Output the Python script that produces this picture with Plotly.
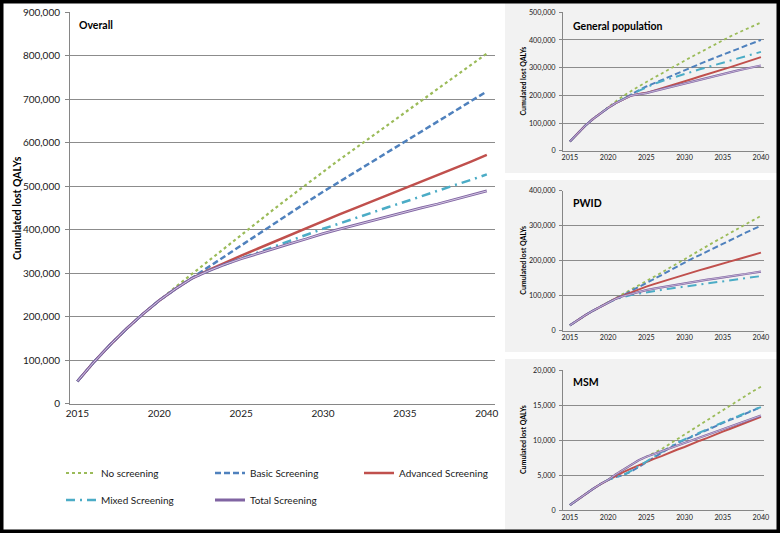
import plotly.graph_objects as go

years = list(range(2015, 2041))
series_names = ["No screening", "Basic Screening", "Advanced Screening", "Mixed Screening", "Total Screening"]

# ---------------- Overall (thousand QALYs) ----------------
overall_no = [51, 95, 135, 172, 206, 238, 268, 298, 328, 358, 389, 418, 447, 476, 505, 534, 561, 588, 615, 642, 669, 696, 723, 750, 777, 805]
overall_basic = [51, 95, 135, 172, 206, 237, 264, 289, 313, 338, 363, 388, 413, 438, 463, 487, 510, 533, 556, 579, 602, 625, 648, 671, 694, 718]
overall_adv = [51, 95, 135, 172, 206, 237, 264, 288, 307, 324, 340, 356, 372, 388, 404, 420, 435, 450, 465, 480, 495, 510, 526, 541, 556, 572]
overall_mixed = [51, 95, 135, 172, 206, 237, 264, 288, 305, 320, 334, 347, 361, 374, 388, 402, 414, 427, 439, 452, 464, 477, 489, 502, 514, 527]
overall_total = [51, 95, 135, 172, 206, 237, 264, 288, 305, 320, 333, 345, 356, 368, 379, 391, 401, 411, 420, 430, 440, 450, 459, 469, 479, 489]

# ---------------- General population (thousand QALYs) ----------------
gp_no = [33, 62, 90, 114, 136, 157, 178, 198, 216, 232, 248, 264, 279, 294, 309, 325, 340, 355, 370, 385, 400, 413, 426, 439, 451, 463]
gp_basic = [33, 62, 90, 114, 136, 155, 172, 188, 203, 218, 232, 244, 256, 268, 280, 292, 303, 314, 325, 336, 346, 357, 368, 379, 390, 400]
gp_adv = [33, 62, 90, 114, 136, 155, 172, 187, 199, 205, 209, 217, 225, 234, 242, 251, 259, 268, 276, 285, 294, 302, 311, 320, 329, 338]
gp_mixed = [33, 62, 90, 114, 136, 155, 172, 188, 202, 216, 230, 241, 251, 260, 269, 278, 286, 294, 302, 310, 318, 326, 334, 342, 350, 357]
gp_total = [33, 62, 90, 114, 136, 155, 172, 187, 199, 204, 208, 215, 222, 229, 236, 243, 250, 257, 263, 270, 277, 283, 290, 296, 302, 308]

# ---------------- PWID (thousand QALYs) ----------------
pwid_no = [15, 30, 44, 57, 69, 82, 93, 104, 116, 128, 140, 153, 166, 179, 192, 205, 217, 230, 242, 255, 267, 280, 292, 304, 316, 328]
pwid_basic = [15, 30, 44, 57, 69, 80, 92, 102, 113, 124, 135, 147, 159, 171, 183, 195, 206, 216, 227, 238, 249, 259, 270, 280, 290, 300]
pwid_adv = [15, 30, 44, 57, 69, 80, 92, 101, 110, 118, 126, 133, 140, 147, 153, 160, 166, 173, 179, 186, 192, 198, 204, 211, 217, 223]
pwid_mixed = [15, 30, 44, 57, 69, 80, 90, 97, 102, 106, 110, 114, 117, 120, 123, 126, 129, 132, 135, 138, 141, 144, 147, 150, 153, 156]
pwid_total = [15, 30, 44, 57, 69, 80, 91, 99, 105, 111, 116, 120, 124, 128, 132, 135, 139, 142, 146, 149, 153, 156, 159, 162, 165, 169]

# ---------------- MSM (thousand QALYs) ----------------
msm_no = [0.7, 1.5, 2.3, 3.0, 3.7, 4.3, 5.1, 5.8, 6.5, 7.1, 7.6, 8.1, 8.7, 9.4, 10.1, 10.8, 11.5, 12.2, 12.9, 13.6, 14.3, 15.0, 15.6, 16.3, 17.0, 17.6]
msm_basic = [0.7, 1.5, 2.3, 3.0, 3.7, 4.3, 4.7, 5.0, 5.5, 6.1, 6.8, 7.5, 8.2, 8.9, 9.5, 10.0, 10.5, 11.0, 11.5, 12.0, 12.4, 12.9, 13.3, 13.8, 14.2, 14.7]
msm_adv = [0.7, 1.5, 2.3, 3.0, 3.7, 4.3, 4.9, 5.4, 5.9, 6.4, 6.9, 7.3, 7.7, 8.2, 8.6, 9.0, 9.5, 9.9, 10.3, 10.8, 11.2, 11.6, 12.0, 12.5, 12.9, 13.3]
msm_mixed = [0.7, 1.5, 2.3, 3.0, 3.7, 4.3, 4.7, 5.0, 5.6, 6.2, 6.9, 7.6, 8.3, 9.0, 9.6, 10.1, 10.6, 11.1, 11.6, 12.1, 12.5, 13.0, 13.4, 13.9, 14.3, 14.7]
msm_total = [0.7, 1.5, 2.3, 3.0, 3.7, 4.3, 5.1, 5.8, 6.5, 7.1, 7.6, 8.0, 8.4, 8.8, 9.2, 9.6, 10.0, 10.4, 10.8, 11.2, 11.6, 12.0, 12.4, 12.7, 13.1, 13.5]

panel_titles = ["Overall", "General population", "PWID", "MSM"]
y_title = "Cumulated lost QALYs"
tick_years = [2015, 2020, 2025, 2030, 2035, 2040]

colors = ["#9BBB59", "#4F81BD", "#C0504D", "#4BACC6", "#8064A2"]
dashes = ["dot", "6px,3px", "solid", "9px,5px,2px,5px", "solid"]

W, H = 780, 533
def px_x(p):
    return p / W
def px_y(p):
    return 1 - p / H

panels = [
    ([overall_no, overall_basic, overall_adv, overall_mixed, overall_total], 1000, "x", "y",
     (70, 495), (12.3, 403.5), [0, 900000], 100000, [2014.55, 2040.5]),
    ([gp_no, gp_basic, gp_adv, gp_mixed, gp_total], 1000, "x2", "y2",
     (563, 764), (12.3, 150.7), [0, 500000], 100000, [2014.1, 2040.4]),
    ([pwid_no, pwid_basic, pwid_adv, pwid_mixed, pwid_total], 1000, "x3", "y3",
     (563, 764), (190.7, 330.7), [0, 400000], 100000, [2014.1, 2040.4]),
    ([msm_no, msm_basic, msm_adv, msm_mixed, msm_total], 1000, "x4", "y4",
     (563, 764), (370, 510), [0, 20000], 5000, [2014.1, 2040.4]),
]

fig = go.Figure()
for pi, (data, scale, xa, ya, xd, yd, yr, dt, xr) in enumerate(panels):
    main = pi == 0
    for si, vals in enumerate(data):
        yv = [v * scale for v in vals]
        if si == 4:
            lw = 2.8 if main else 2.2
        else:
            lw = (2.2 if si == 0 else 2.5) if main else (1.8 if si == 0 else 2.0)
        kw = {}
        if main:
            kw["legend"] = "legend" if si < 3 else "legend2"
        fig.add_trace(go.Scatter(
            x=years, y=yv, mode="lines", name=series_names[si],
            line=dict(color=colors[si], dash=dashes[si], width=lw),
            xaxis=xa, yaxis=ya, showlegend=main, **kw,
        ))
        if si == 4:
            # compound (double) line look of the purple series
            fig.add_trace(go.Scatter(
                x=years, y=yv, mode="lines", name=series_names[si],
                line=dict(color="#DCD3EA", width=0.9 if main else 0.7),
                xaxis=xa, yaxis=ya, showlegend=False, hoverinfo="skip",
            ))
    fs = 10 if main else 7.2
    xkey = "xaxis" if xa == "x" else "xaxis" + xa[1:]
    ykey = "yaxis" if ya == "y" else "yaxis" + ya[1:]
    fig.update_layout(**{
        xkey: dict(domain=[px_x(xd[0]), px_x(xd[1])], anchor=ya, range=xr,
                   tickvals=tick_years, showgrid=False, automargin=False,
                   showline=True, linecolor="#868686", linewidth=1, ticks="",
                   tickfont=dict(family="Lato", size=fs, color="#1a1a1a"), zeroline=False),
        ykey: dict(domain=[px_y(yd[1]), px_y(yd[0])], anchor=xa, range=yr, dtick=dt,
                   tickformat=",d", showgrid=True, gridcolor="#8c8c8c", gridwidth=1,
                   showline=True, linecolor="#868686", linewidth=1, ticks="outside",
                   ticklen=4 if main else 3, tickcolor="#868686", automargin=False,
                   ticklabelstandoff=3 if main else 2,
                   tickfont=dict(family="Lato", size=fs, color="#1a1a1a"), zeroline=False),
    })

shapes = []
for (y0, y1) in [(3, 173), (180, 352), (359, 530)]:
    shapes.append(dict(type="rect", xref="paper", yref="paper", layer="below",
                       x0=px_x(505), x1=px_x(777), y0=px_y(y1), y1=px_y(y0),
                       fillcolor="#F2F2F2", line=dict(width=0)))
shapes.append(dict(type="rect", xref="paper", yref="paper", x0=0, x1=1, y0=0, y1=1,
                   line=dict(color="black", width=7), fillcolor="rgba(0,0,0,0)"))

annotations = [
    dict(text="<b>%s</b>" % panel_titles[0], x=px_x(77), y=px_y(25), xref="paper", yref="paper",
         xanchor="left", yanchor="middle", showarrow=False, font=dict(family="Lato", size=10.5, color="black")),
    dict(text="<b>%s</b>" % y_title, x=px_x(17), y=px_y(208), xref="paper", yref="paper",
         xanchor="center", yanchor="middle",
         textangle=-90, showarrow=False, font=dict(family="Lato", size=10.5, color="black")),
]
for t, ty, (ya0, ya1) in [(panel_titles[1], 26, (12.3, 150.7)), (panel_titles[2], 203, (190.7, 330.7)),
                          (panel_titles[3], 382, (370, 510))]:
    annotations.append(dict(text="<b>%s</b>" % t, x=px_x(571), y=px_y(ty), xref="paper", yref="paper",
                            xanchor="left", yanchor="middle", showarrow=False,
                            font=dict(family="Lato", size=10.5, color="black")))
    annotations.append(dict(text="<b>%s</b>" % y_title, x=px_x(523), y=px_y((ya0 + ya1) / 2),
                            xref="paper", yref="paper", textangle=-90, showarrow=False,
                            xanchor="center", yanchor="middle",
                            font=dict(family="Lato", size=7, color="black")))

legend_common = dict(orientation="h", xref="paper", yref="paper", xanchor="left", yanchor="middle",
                     bgcolor="rgba(0,0,0,0)", font=dict(family="Lato", size=10, color="#1a1a1a"),
                     entrywidth=104, entrywidthmode="pixels", tracegroupgap=0, itemwidth=30)

fig.update_layout(
    width=W, height=H, margin=dict(l=0, r=0, t=0, b=0, autoexpand=False),
    paper_bgcolor="white", plot_bgcolor="rgba(0,0,0,0)",
    shapes=shapes, annotations=annotations,
    legend=dict(x=px_x(61), y=px_y(473), **legend_common),
    legend2=dict(x=px_x(61), y=px_y(500), **legend_common),
)

post = ("document.body.style.margin='0px';document.body.style.padding='0px';"
        "document.body.style.overflow='hidden';"
        "var d=document.getElementById('{plot_id}');d.style.position='absolute';"
        "d.style.left='0px';d.style.top='0px';")
fig.write_html("out.html", config={"displayModeBar": False}, post_script=post)
